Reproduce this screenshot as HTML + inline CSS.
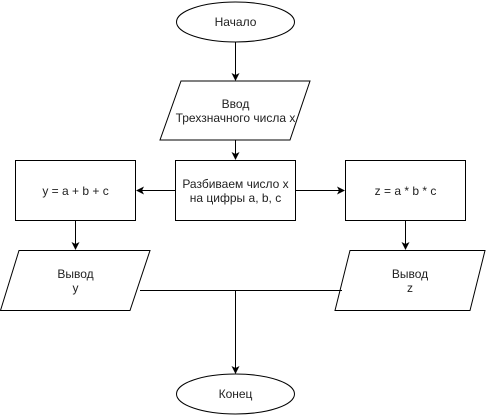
<!DOCTYPE html>
<html><head><meta charset="utf-8"><style>
html,body{margin:0;padding:0;background:#fff;}
svg{display:block}
text{font-family:"Liberation Sans",Arial,sans-serif;font-size:12px;fill:#222;text-anchor:middle}
</style></head><body>
<svg width="486" height="416" viewBox="0 0 486 416" xmlns="http://www.w3.org/2000/svg">
<defs><marker id="a" markerWidth="8" markerHeight="8" refX="7" refY="4" orient="auto" markerUnits="userSpaceOnUse"><path d="M0,0 L8,4 L0,8 L2,4 Z" fill="#000"/></marker></defs>
<g fill="#fff" stroke="#000" stroke-width="1">
<ellipse cx="235.5" cy="22" rx="59" ry="20"/>
<polygon points="181,81 310,81 290,140 160,140"/>
<rect x="175.5" y="160.5" width="120" height="60"/>
<rect x="15.5" y="160.5" width="120" height="60"/>
<rect x="345.5" y="160.5" width="120" height="60"/>
<polygon points="19,250.5 150,250.5 130,310.5 0.5,310.5"/>
<polygon points="350,250.5 485,250.5 470,310.5 335,310.5"/>
<ellipse cx="235.5" cy="394" rx="59" ry="20"/>
</g>
<g stroke="#000" stroke-width="1" fill="none">
<line x1="235.5" y1="42" x2="235.5" y2="80" marker-end="url(#a)"/>
<line x1="235.5" y1="140" x2="235.5" y2="159" marker-end="url(#a)"/>
<line x1="175" y1="190.5" x2="137" y2="190.5" marker-end="url(#a)"/>
<line x1="296" y1="190.5" x2="344" y2="190.5" marker-end="url(#a)"/>
<line x1="75.5" y1="221" x2="75.5" y2="249" marker-end="url(#a)"/>
<line x1="405.5" y1="221" x2="405.5" y2="249" marker-end="url(#a)"/>
<line x1="140" y1="290.5" x2="342" y2="290.5"/>
<line x1="235.5" y1="290.5" x2="235.5" y2="373" marker-end="url(#a)"/>
</g>
<text x="235.5" y="26">Начало</text>
<text x="235.5" y="108">Ввод</text>
<text x="235.5" y="122">Трехзначного числа x</text>
<text x="235.5" y="188">Разбиваем число x</text>
<text x="235.5" y="202">на цифры a, b, c</text>
<text x="75.5" y="195">y = a + b + c</text>
<text x="405.5" y="195">z = a * b * c</text>
<text x="75.5" y="278">Вывод</text>
<text x="75.5" y="292">y</text>
<text x="410" y="278">Вывод</text>
<text x="410" y="292">z</text>
<text x="235.5" y="398">Конец</text>
</svg>
</body></html>
